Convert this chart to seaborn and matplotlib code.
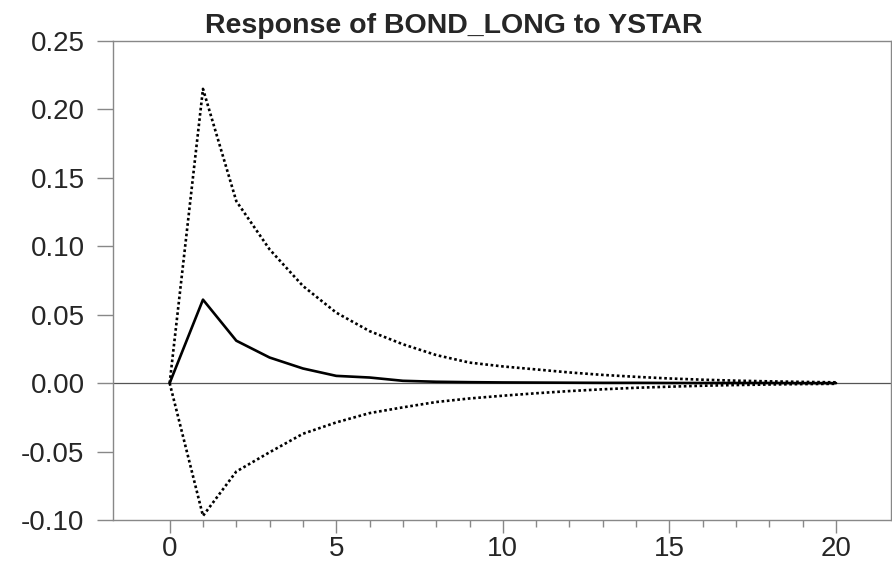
import matplotlib
matplotlib.use("Agg")
import matplotlib.pyplot as plt
import seaborn as sns
import pandas as pd
import numpy as np
from matplotlib.ticker import MultipleLocator, FixedLocator, FormatStrFormatter

periods = list(range(0, 21))
response = [0.0, 0.061, 0.031, 0.0187, 0.0107, 0.0053, 0.0041, 0.0017, 0.0010,
            0.0007, 0.0005, 0.0004, 0.0003, 0.0002, 0.0002, 0.0001, 0.0001,
            0.0001, 0.0001, 0.0000, 0.0000]
upper = [0.0, 0.215, 0.133, 0.0977, 0.071, 0.0515, 0.038, 0.0284, 0.0205,
         0.0150, 0.0122, 0.0100, 0.0078, 0.0060, 0.0046, 0.0034, 0.0025,
         0.0018, 0.0013, 0.0009, 0.0006]
lower = [0.0, -0.097, -0.0646, -0.0505, -0.037, -0.0287, -0.0219, -0.0177,
         -0.0138, -0.0112, -0.0092, -0.0074, -0.0058, -0.0045, -0.0034,
         -0.0026, -0.0019, -0.0014, -0.0010, -0.0007, -0.0005]
title = "Response of BOND_LONG to YSTAR"

sns.set_theme(style="white")
plt.rcParams['font.family'] = ['Liberation Sans', 'DejaVu Sans']

df = pd.DataFrame({"period": periods * 3,
                   "value": response + upper + lower,
                   "series": ["Response"] * 21 + ["Upper"] * 21 + ["Lower"] * 21})

fig = plt.figure(figsize=(8.92, 5.63), dpi=100)
ax = fig.add_axes([0.1267, 0.0764, 0.8722, 0.8508])

ax.axhline(0, color="#555555", lw=0.9, zorder=1)

sns.lineplot(data=df[df.series == "Response"], x="period", y="value",
             color="black", lw=1.9, ax=ax, zorder=3)
for s in ["Upper", "Lower"]:
    sns.lineplot(data=df[df.series == s], x="period", y="value",
                 color="black", lw=1.9, ax=ax, zorder=3,
                 linestyle=(0, (1, 1)))

ax.set_xlim(-1.7, 21.65)
ax.set_ylim(-0.10, 0.25)
ax.set_xlabel("")
ax.set_ylabel("")
fig.text(0.509, 1 - 33 / 563, title, fontsize=20.5, fontweight="bold",
         ha="center", va="baseline")

ax.xaxis.set_major_locator(MultipleLocator(5))
ax.xaxis.set_minor_locator(FixedLocator(periods))
ax.yaxis.set_major_locator(MultipleLocator(0.05))
ax.yaxis.set_major_formatter(FormatStrFormatter("%.2f"))

for sp in ax.spines.values():
    sp.set_color("#888888")
    sp.set_linewidth(1.0)

ax.tick_params(axis="x", which="major", direction="out", length=9.5, width=1,
               color="#888888", labelsize=20, pad=2, bottom=True)
ax.tick_params(axis="x", which="minor", direction="out", length=5, width=1,
               color="#888888", bottom=True)
ax.tick_params(axis="y", which="major", direction="out", length=11.5, width=1,
               color="#888888", labelsize=20, pad=9, left=True)

fig.savefig("out.png", dpi=100)
